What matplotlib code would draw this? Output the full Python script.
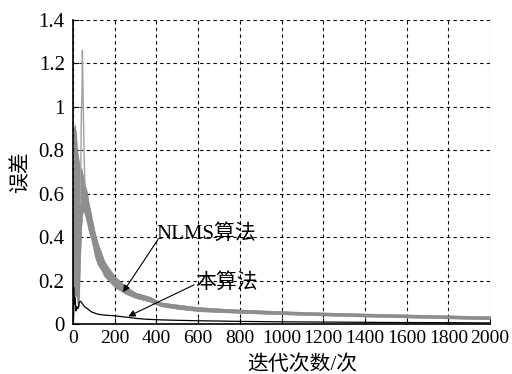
import matplotlib

matplotlib.use("Agg")  # headless
import matplotlib.pyplot as plt

plt.rcParams["font.family"] = ["Liberation Serif", "Noto Sans CJK SC", "DejaVu Sans"]

# NLMS error: noisy band, envelope
nlms_x = [0, 4, 8, 14, 20, 28, 34, 40, 44, 48, 52, 58, 66, 75, 90, 105, 120, 135,
          150, 170, 200, 250, 300, 370, 420, 500, 600, 750, 900, 1100, 1330, 1600,
          1800, 1970, 2000]
nlms_upper = [0.20, 0.90, 0.92, 0.88, 0.80, 0.75, 0.70, 0.72, 0.70, 0.68, 0.66, 0.64,
              0.61, 0.56, 0.49, 0.42, 0.37, 0.33, 0.29, 0.26, 0.22, 0.175, 0.145,
              0.125, 0.10, 0.09, 0.078, 0.069, 0.063, 0.056, 0.050, 0.044, 0.040,
              0.036, 0.036]
nlms_lower = [0.0, 0.05, 0.10, 0.15, 0.10, 0.08, 0.30, 0.45, 0.50, 0.52, 0.52, 0.50,
              0.47, 0.43, 0.38, 0.31, 0.27, 0.25, 0.22, 0.20, 0.17, 0.14, 0.12,
              0.102, 0.082, 0.070, 0.059, 0.053, 0.048, 0.042, 0.036, 0.030, 0.026,
              0.022, 0.022]

# the tall early spike of the NLMS curve
spike_x = [36, 40, 43, 45, 47, 50, 54, 58]
spike_y = [0.55, 0.98, 1.05, 1.26, 1.14, 0.95, 0.75, 0.62]

# proposed algorithm (本算法)
ours_x = [0, 3, 6, 10, 14, 18, 24, 30, 36, 44, 55, 70, 90, 120, 160, 200, 240, 270,
          300, 350, 420, 500, 600, 800, 1000, 1200, 1500, 1800, 2000]
ours_y = [0.0, 0.17, 0.09, 0.12, 0.06, 0.08, 0.07, 0.10, 0.105, 0.095, 0.08, 0.07,
          0.055, 0.045, 0.040, 0.038, 0.033, 0.030, 0.026, 0.022, 0.019, 0.017,
          0.015, 0.012, 0.010, 0.009, 0.007, 0.006, 0.005]

x_ticks = list(range(0, 2001, 200))
y_ticks = [0, 0.2, 0.4, 0.6, 0.8, 1, 1.2, 1.4]
y_tick_labels = ["0", "0.2", "0.4", "0.6", "0.8", "1", "1.2", "1.4"]

fig = plt.figure(figsize=(5.12, 3.74), dpi=100)
ax = fig.add_axes([0.1426, 0.1337, 0.8145, 0.8128])

ax.fill_between(nlms_x, nlms_lower, nlms_upper, color="#8e8e8e", linewidth=0.4,
                edgecolor="#7a7a7a", zorder=2)
ax.plot(spike_x, spike_y, color="#a0a0a0", lw=1.0, zorder=2)
ax.plot(ours_x, ours_y, color="black", lw=0.9, zorder=3)

ax.set_xlim(0, 2000)
ax.set_ylim(0, 1.4)
ax.set_xticks(x_ticks)
ax.set_yticks(y_ticks)
ax.set_yticklabels(y_tick_labels)
ax.tick_params(direction="in", length=4, width=0.8, top=False, right=False)
ax.tick_params(axis="x", labelsize=14, pad=4)
ax.tick_params(axis="y", labelsize=15, pad=6)

ax.grid(True, color="black", linestyle=(0, (3, 3)), linewidth=0.8)
ax.set_axisbelow(True)
for side in ("top", "right"):
    ax.spines[side].set_visible(False)
for side in ("left", "bottom"):
    ax.spines[side].set_linewidth(1.2)

ax.set_xlabel("迭代次数/次", fontsize=15)
ax.xaxis.set_label_coords(0.55, -0.105)
ax.set_ylabel("误差", fontsize=15)
ax.yaxis.set_label_coords(-0.10, 0.5)

arrow = dict(arrowstyle="-|>", color="black", lw=0.8, mutation_scale=10,
             shrinkA=0, shrinkB=0)
ax.text(400, 0.415, "NLMS算法", fontsize=15, ha="left", va="center")
ax.annotate("", xy=(240, 0.147), xytext=(408, 0.39), arrowprops=arrow)
ax.text(585, 0.19, "本算法", fontsize=15, ha="left", va="center")
ax.annotate("", xy=(265, 0.035), xytext=(580, 0.18), arrowprops=arrow)

fig.savefig("out.png", dpi=100)
